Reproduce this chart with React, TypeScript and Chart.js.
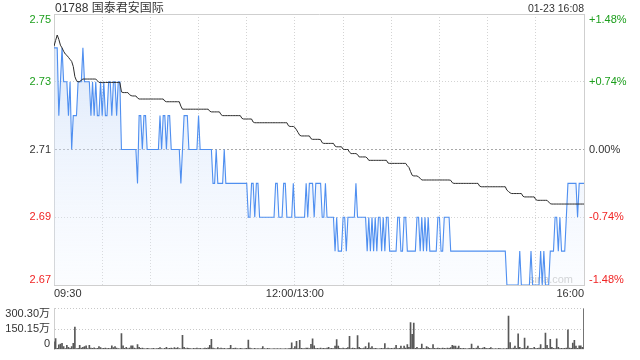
import React, { useEffect, useRef } from 'react';
import { Chart, registerables } from 'chart.js';

Chart.register(...registerables);

const TITLE = '01788 国泰君安国际';
const STAMP = '01-23 16:08';
const WATERMARK = 'sina.com';
const PREV_CLOSE = 2.71;

const PRICE_TICKS = [2.67, 2.69, 2.71, 2.73, 2.75];
const TIME_TICKS = [0, 30, 60, 90, 120, 150, 180, 210, 240, 270, 300, 330];
const TIME_LABELS: Record<number, string> = { 0: '09:30', 150: '12:00/13:00', 330: '16:00' };
const VOL_TICKS = [0, 150.15, 300.3];

// last price, one value per minute (09:30 .. 16:00)
const PRICE = [
  2.74, 2.74, 2.74, 2.72, 2.73, 2.74, 2.73, 2.73, 2.73, 2.72,
  2.73, 2.71, 2.72, 2.72, 2.72, 2.73, 2.73, 2.73, 2.74, 2.73,
  2.73, 2.73, 2.73, 2.72, 2.73, 2.72, 2.73, 2.72, 2.72, 2.73,
  2.72, 2.73, 2.72, 2.72, 2.73, 2.73, 2.72, 2.73, 2.73, 2.72,
  2.73, 2.73, 2.71, 2.71, 2.71, 2.71, 2.71, 2.71, 2.71, 2.71,
  2.71, 2.71, 2.70, 2.72, 2.72, 2.71, 2.72, 2.72, 2.71, 2.71,
  2.71, 2.71, 2.71, 2.71, 2.71, 2.71, 2.72, 2.71, 2.72, 2.72,
  2.71, 2.72, 2.72, 2.71, 2.71, 2.71, 2.71, 2.71, 2.71, 2.70,
  2.71, 2.72, 2.72, 2.72, 2.71, 2.71, 2.71, 2.71, 2.71, 2.71,
  2.72, 2.71, 2.71, 2.71, 2.71, 2.71, 2.71, 2.71, 2.71, 2.70,
  2.70, 2.71, 2.70, 2.70, 2.70, 2.70, 2.71, 2.70, 2.70, 2.70,
  2.70, 2.70, 2.70, 2.70, 2.70, 2.70, 2.70, 2.70, 2.70, 2.70,
  2.70, 2.69, 2.69, 2.70, 2.70, 2.69, 2.70, 2.70, 2.69, 2.69,
  2.69, 2.69, 2.69, 2.69, 2.69, 2.69, 2.69, 2.69, 2.70, 2.70,
  2.69, 2.69, 2.69, 2.70, 2.70, 2.69, 2.69, 2.69, 2.69, 2.70,
  2.69, 2.69, 2.69, 2.69, 2.69, 2.69, 2.69, 2.70, 2.69, 2.70,
  2.70, 2.70, 2.69, 2.70, 2.70, 2.70, 2.70, 2.69, 2.69, 2.70,
  2.69, 2.69, 2.69, 2.69, 2.69, 2.68, 2.69, 2.68, 2.68, 2.68,
  2.69, 2.69, 2.68, 2.69, 2.69, 2.69, 2.69, 2.69, 2.70, 2.69,
  2.69, 2.69, 2.69, 2.69, 2.69, 2.68, 2.69, 2.68, 2.69, 2.68,
  2.69, 2.68, 2.69, 2.69, 2.68, 2.69, 2.68, 2.69, 2.69, 2.68,
  2.68, 2.68, 2.68, 2.68, 2.69, 2.69, 2.68, 2.68, 2.69, 2.69,
  2.68, 2.68, 2.68, 2.68, 2.68, 2.68, 2.69, 2.69, 2.68, 2.69,
  2.68, 2.69, 2.68, 2.69, 2.68, 2.68, 2.68, 2.68, 2.68, 2.69,
  2.69, 2.68, 2.68, 2.69, 2.69, 2.69, 2.69, 2.68, 2.68, 2.68,
  2.68, 2.68, 2.68, 2.68, 2.68, 2.68, 2.68, 2.68, 2.68, 2.68,
  2.68, 2.68, 2.68, 2.68, 2.68, 2.68, 2.68, 2.68, 2.68, 2.68,
  2.68, 2.68, 2.68, 2.68, 2.68, 2.68, 2.68, 2.68, 2.68, 2.68,
  2.68, 2.68, 2.67, 2.67, 2.67, 2.67, 2.67, 2.67, 2.67, 2.67,
  2.68, 2.67, 2.67, 2.67, 2.67, 2.67, 2.67, 2.68, 2.67, 2.67,
  2.67, 2.67, 2.67, 2.68, 2.67, 2.68, 2.67, 2.67, 2.67, 2.68,
  2.68, 2.68, 2.69, 2.69, 2.68, 2.69, 2.68, 2.68, 2.68, 2.69,
  2.70, 2.70, 2.70, 2.70, 2.70, 2.70, 2.69, 2.70, 2.70, 2.70,
  2.70,
];

// average price, one value per minute
const AVG = [
  2.7405, 2.7422, 2.7438, 2.7425, 2.7408, 2.7400, 2.7390, 2.7382, 2.7378, 2.7372,
  2.7366, 2.7360, 2.7345, 2.7315, 2.7303, 2.7300, 2.7300, 2.7305, 2.7308, 2.7308,
  2.7308, 2.7308, 2.7308, 2.7308, 2.7308, 2.7308, 2.7308, 2.7303, 2.7298, 2.7298,
  2.7298, 2.7298, 2.7298, 2.7298, 2.7298, 2.7298, 2.7298, 2.7298, 2.7298, 2.7298,
  2.7298, 2.7298, 2.7270, 2.7268, 2.7268, 2.7268, 2.7268, 2.7262, 2.7259, 2.7258,
  2.7258, 2.7258, 2.7252, 2.7249, 2.7249, 2.7249, 2.7249, 2.7249, 2.7249, 2.7249,
  2.7249, 2.7249, 2.7249, 2.7249, 2.7249, 2.7249, 2.7249, 2.7249, 2.7249, 2.7243,
  2.7241, 2.7241, 2.7241, 2.7241, 2.7241, 2.7241, 2.7241, 2.7241, 2.7241, 2.7228,
  2.7219, 2.7219, 2.7219, 2.7219, 2.7219, 2.7219, 2.7219, 2.7219, 2.7219, 2.7219,
  2.7219, 2.7219, 2.7219, 2.7219, 2.7219, 2.7219, 2.7219, 2.7213, 2.7211, 2.7211,
  2.7211, 2.7211, 2.7211, 2.7211, 2.7203, 2.7200, 2.7200, 2.7200, 2.7200, 2.7200,
  2.7200, 2.7200, 2.7200, 2.7200, 2.7200, 2.7200, 2.7200, 2.7192, 2.7190, 2.7190,
  2.7190, 2.7190, 2.7190, 2.7190, 2.7181, 2.7179, 2.7179, 2.7179, 2.7179, 2.7179,
  2.7179, 2.7179, 2.7179, 2.7179, 2.7179, 2.7179, 2.7179, 2.7179, 2.7179, 2.7179,
  2.7179, 2.7179, 2.7179, 2.7179, 2.7179, 2.7179, 2.7170, 2.7168, 2.7168, 2.7168,
  2.7165, 2.7158, 2.7150, 2.7142, 2.7140, 2.7140, 2.7140, 2.7140, 2.7140, 2.7140,
  2.7132, 2.7130, 2.7130, 2.7130, 2.7130, 2.7130, 2.7129, 2.7120, 2.7118, 2.7118,
  2.7118, 2.7118, 2.7118, 2.7118, 2.7118, 2.7110, 2.7108, 2.7108, 2.7108, 2.7108,
  2.7101, 2.7100, 2.7100, 2.7100, 2.7092, 2.7088, 2.7088, 2.7088, 2.7088, 2.7085,
  2.7078, 2.7078, 2.7078, 2.7078, 2.7078, 2.7075, 2.7068, 2.7068, 2.7068, 2.7068,
  2.7068, 2.7068, 2.7068, 2.7068, 2.7068, 2.7068, 2.7068, 2.7068, 2.7060, 2.7059,
  2.7059, 2.7059, 2.7059, 2.7059, 2.7059, 2.7059, 2.7059, 2.7059, 2.7059, 2.7059,
  2.7052, 2.7047, 2.7035, 2.7024, 2.7022, 2.7022, 2.7022, 2.7019, 2.7015, 2.7010,
  2.7010, 2.7010, 2.7010, 2.7010, 2.7010, 2.7010, 2.7010, 2.7010, 2.7010, 2.7010,
  2.7010, 2.7010, 2.7010, 2.7010, 2.7010, 2.7010, 2.7010, 2.7009, 2.7002, 2.7000,
  2.7000, 2.7000, 2.7000, 2.7000, 2.7000, 2.7000, 2.7000, 2.7000, 2.7000, 2.7000,
  2.7000, 2.7000, 2.7000, 2.7000, 2.7000, 2.6992, 2.6990, 2.6990, 2.6990, 2.6990,
  2.6990, 2.6990, 2.6990, 2.6990, 2.6990, 2.6990, 2.6990, 2.6990, 2.6990, 2.6990,
  2.6990, 2.6990, 2.6980, 2.6976, 2.6972, 2.6970, 2.6970, 2.6970, 2.6970, 2.6970,
  2.6970, 2.6970, 2.6962, 2.6960, 2.6960, 2.6960, 2.6960, 2.6960, 2.6960, 2.6960,
  2.6952, 2.6950, 2.6950, 2.6950, 2.6950, 2.6950, 2.6950, 2.6950, 2.6945, 2.6940,
  2.6939, 2.6939, 2.6939, 2.6939, 2.6939, 2.6939, 2.6939, 2.6939, 2.6939, 2.6939,
  2.6939, 2.6939, 2.6939, 2.6939, 2.6939, 2.6939, 2.6939, 2.6939, 2.6939, 2.6939,
  2.6939,
];

// volume per minute, in 万 shares
const VOLUME = [
  56, 80, 8, 34, 40, 44, 20, 6, 30, 16,
  8, 20, 44, 164, 6, 8, 30, 10, 16, 20,
  26, 6, 30, 10, 8, 12, 6, 8, 20, 14,
  6, 8, 10, 6, 8, 6, 26, 14, 20, 10,
  6, 4, 116, 26, 8, 16, 6, 10, 26, 26,
  10, 6, 36, 16, 8, 10, 6, 4, 8, 6,
  4, 6, 8, 4, 6, 8, 14, 6, 4, 8,
  16, 6, 8, 10, 6, 14, 8, 14, 6, 4,
  104, 16, 6, 10, 8, 6, 4, 8, 6, 10,
  6, 8, 4, 6, 10, 8, 12, 30, 74, 10,
  6, 4, 14, 6, 10, 6, 8, 4, 6, 8,
  30, 6, 8, 10, 6, 4, 8, 6, 4, 6,
  8, 68, 10, 6, 4, 8, 4, 6, 4, 6,
  20, 6, 4, 8, 6, 4, 4, 6, 4, 6,
  4, 6, 4, 4, 6, 4, 6, 8, 48, 6,
  20, 60, 6, 66, 8, 6, 6, 10, 10, 6,
  38, 78, 26, 6, 8, 6, 10, 6, 8, 6,
  10, 16, 6, 8, 6, 24, 72, 24, 8, 6,
  10, 6, 8, 14, 96, 6, 10, 8, 6, 102,
  16, 8, 6, 10, 20, 8, 48, 10, 20, 6,
  8, 6, 4, 6, 8, 6, 42, 6, 10, 6,
  8, 6, 10, 30, 6, 8, 24, 6, 24, 10,
  36, 16, 198, 110, 194, 8, 16, 6, 8, 40,
  8, 6, 20, 14, 8, 6, 36, 8, 6, 10,
  8, 6, 10, 8, 6, 10, 8, 14, 30, 24,
  24, 10, 24, 8, 6, 8, 6, 4, 6, 8,
  40, 8, 6, 10, 24, 8, 6, 10, 16, 8,
  6, 8, 14, 6, 4, 6, 4, 8, 6, 4,
  6, 4, 8, 246, 50, 6, 10, 24, 8, 114,
  16, 6, 8, 84, 10, 24, 6, 8, 6, 16,
  6, 8, 10, 36, 6, 8, 120, 30, 8, 74,
  16, 8, 6, 78, 16, 6, 8, 6, 8, 10,
  144, 10, 8, 46, 66, 24, 8, 26, 26, 16,
  300.3,
];

const MINUTES = PRICE.map((_, i) => i);

const FONT = "'Liberation Sans', Arial, 'Noto Sans CJK SC', sans-serif";
const GREEN = '#1c9e1c';
const RED = '#f02424';
const TEXT = '#333333';
const GRID = '#cfcfcf';

const tickColor = (c: any) => {
  const v = c.tick ? c.tick.value : PREV_CLOSE;
  if (v > PREV_CLOSE + 1e-9) return GREEN;
  if (v < PREV_CLOSE - 1e-9) return RED;
  return TEXT;
};

const setTicks = (values: number[]) => (scale: any) => {
  scale.ticks = values.map((v) => ({ value: v }));
};

// edge labels sit inside the plot: top label hangs below the top, bottom label sits above the bottom
const edgeLabels = {
  id: 'edgeLabels',
  beforeDraw(chart: any) {
    const area = chart.chartArea;
    Object.values(chart.scales).forEach((scale: any) => {
      if (scale.axis !== 'y' || typeof scale.getLabelItems !== 'function') return;
      const items = scale.getLabelItems(area) || [];
      items.forEach((item: any) => {
        const ty = item.options.translation[1];
        if (Math.abs(ty - area.top) < 1) item.options.textBaseline = 'top';
        else if (Math.abs(ty - area.bottom) < 1) item.options.textBaseline = 'bottom';
      });
    });
  },
};

const watermark = {
  id: 'watermark',
  beforeDatasetsDraw(chart: any) {
    const { ctx, chartArea } = chart;
    ctx.save();
    ctx.font = `11px ${FONT}`;
    ctx.fillStyle = '#cccccc';
    ctx.textAlign = 'right';
    ctx.textBaseline = 'bottom';
    ctx.fillText(WATERMARK, chartArea.right - 11, chartArea.bottom);
    ctx.restore();
  },
};

export default function App() {
  const mainRef = useRef<HTMLCanvasElement>(null);
  const volRef = useRef<HTMLCanvasElement>(null);

  useEffect(() => {
    const tickFont = { family: FONT, size: 11 };
    const isEdgeX = (c: any) => c.tick && (c.tick.value === TIME_TICKS[0] || c.tick.value === TIME_TICKS[TIME_TICKS.length - 1]);
    const isEdgeY = (c: any) => c.tick && (c.tick.value === PRICE_TICKS[0] || c.tick.value === PRICE_TICKS[PRICE_TICKS.length - 1]);

    const main = new Chart(mainRef.current as HTMLCanvasElement, {
      type: 'line',
      data: {
        datasets: [
          {
            label: 'avg',
            data: AVG.map((v, i) => ({ x: MINUTES[i], y: v })),
            borderColor: '#2b2b2b',
            borderWidth: 1,
            pointRadius: 0,
            fill: false,
            tension: 0,
            yAxisID: 'y',
          },
          {
            label: 'price',
            data: PRICE.map((v, i) => ({ x: MINUTES[i], y: v })),
            borderColor: '#4f8ff0',
            borderWidth: 1.1,
            pointRadius: 0,
            tension: 0,
            fill: 'start',
            backgroundColor: (c: any) => {
              const a = c.chart.chartArea;
              if (!a) return 'rgba(200,220,248,0.4)';
              const g = c.chart.ctx.createLinearGradient(0, a.top, 0, a.bottom);
              g.addColorStop(0, 'rgba(190,212,246,0.62)');
              g.addColorStop(1, 'rgba(235,243,255,0.2)');
              return g;
            },
            yAxisID: 'y',
          },
        ],
      },
      options: {
        animation: false,
        responsive: false,
        events: [],
        layout: { padding: { top: 14, left: 0, right: 0, bottom: 0 } },
        plugins: { legend: { display: false }, tooltip: { enabled: false } },
        scales: {
          x: {
            type: 'linear',
            min: 0,
            max: 330,
            afterBuildTicks: setTicks(TIME_TICKS),
            afterFit: (s: any) => { s.height = 15; },
            ticks: {
              autoSkip: false,
              maxRotation: 0,
              align: 'inner',
              padding: 2,
              color: TEXT,
              font: tickFont,
              callback: (v: any) => TIME_LABELS[v as number] ?? '',
            },
            grid: { drawTicks: false, color: (c: any) => (isEdgeX(c) ? GRID : '#d4d4d4') },
            border: { color: GRID, dash: (c: any) => (isEdgeX(c) || !c.tick ? [] : [1, 2]) },
          },
          y: {
            position: 'left',
            min: 2.67,
            max: 2.75,
            afterBuildTicks: setTicks(PRICE_TICKS),
            afterFit: (s: any) => { s.width = 54; },
            ticks: {
              padding: 3,
              font: tickFont,
              color: tickColor,
              callback: (v: any) => Number(v).toFixed(2),
            },
            grid: {
              drawTicks: false,
              color: (c: any) => (c.tick && c.tick.value === PREV_CLOSE ? '#a8a8a8' : isEdgeY(c) ? GRID : '#d4d4d4'),
            },
            border: {
              color: GRID,
              dash: (c: any) => (!c.tick || isEdgeY(c) ? [] : c.tick.value === PREV_CLOSE ? [2, 2] : [1, 2]),
            },
          },
          y2: {
            position: 'right',
            min: 2.67,
            max: 2.75,
            afterBuildTicks: setTicks(PRICE_TICKS),
            afterFit: (s: any) => { s.width = 56; },
            ticks: {
              padding: 5,
              font: tickFont,
              color: tickColor,
              callback: (v: any) => {
                const pct = ((Number(v) - PREV_CLOSE) / PREV_CLOSE) * 100;
                if (Math.abs(pct) < 0.005) return '0.00%';
                return (pct > 0 ? '+' : '') + pct.toFixed(2) + '%';
              },
            },
            grid: { drawOnChartArea: false, drawTicks: false },
            border: { color: GRID },
          },
        },
      } as any,
      plugins: [edgeLabels, watermark],
    });

    const vol = new Chart(volRef.current as HTMLCanvasElement, {
      type: 'bar',
      data: {
        labels: MINUTES,
        datasets: [
          {
            label: 'volume',
            data: VOLUME,
            backgroundColor: '#585858',
            barThickness: 1,
          },
        ],
      },
      options: {
        animation: false,
        responsive: false,
        events: [],
        layout: { padding: { top: 7, left: 0, right: 56, bottom: 5 } },
        plugins: { legend: { display: false }, tooltip: { enabled: false } },
        scales: {
          x: { type: 'category', offset: false, display: false },
          y: {
            min: 0,
            max: 300.3,
            afterBuildTicks: setTicks(VOL_TICKS),
            afterFit: (s: any) => { s.width = 54; },
            ticks: {
              padding: 4,
              font: tickFont,
              color: TEXT,
              callback: (v: any) => (Number(v) === 0 ? '0' : Number(v).toFixed(2) + '万'),
            },
            grid: {
              drawTicks: false,
              color: (c: any) => (c.tick && c.tick.value === 0 ? 'rgba(0,0,0,0)' : '#c8c8c8'),
            },
            border: { color: GRID, dash: (c: any) => (c.tick ? [1, 2] : []) },
          },
        },
      } as any,
      plugins: [edgeLabels],
    });

    return () => {
      main.destroy();
      vol.destroy();
    };
  }, []);

  return (
    <div style={{ position: 'absolute', left: 0, top: 0, width: 640, height: 360, background: '#fff', overflow: 'hidden' }}>
      <canvas ref={mainRef} width={640} height={300} style={{ position: 'absolute', left: 0, top: 0, display: 'block' }} />
      <canvas ref={volRef} width={640} height={62} style={{ position: 'absolute', left: 0, top: 298, display: 'block' }} />
      <div style={{ position: 'absolute', left: 55, top: 1, fontFamily: FONT, fontSize: 12, lineHeight: '14px', color: TEXT, whiteSpace: 'nowrap' }}>
        {TITLE}
      </div>
      <div style={{ position: 'absolute', right: 56, top: 2, fontFamily: FONT, fontSize: 10.5, lineHeight: '12px', color: TEXT, whiteSpace: 'nowrap' }}>
        {STAMP}
      </div>
    </div>
  );
}
